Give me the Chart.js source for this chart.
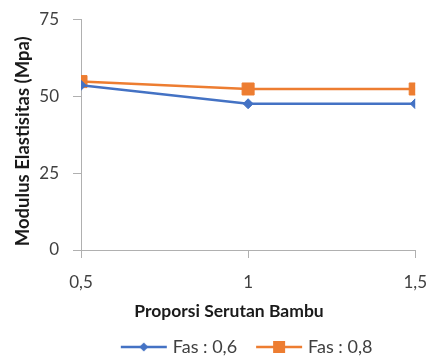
<!DOCTYPE html>
<html>
<head>
<meta charset="utf-8">
<script src="https://cdn.jsdelivr.net/npm/chart.js@4/dist/chart.umd.min.js"></script>
<style>
  html, body { margin: 0; padding: 0; background: #ffffff; }
  #wrap { width: 441px; height: 361px; }
</style>
</head>
<body>
<div id="wrap"><canvas id="c" width="441" height="361"></canvas></div>
<script>
// Proporsi serutan bambu (x) and modulus elastisitas (Mpa) per FAS
const proporsi = [0.5, 1, 1.5];
const fas06 = [53.5, 47.5, 47.5];
const fas08 = [54.7, 52.3, 52.3];
const yTicks = [0, 25, 50, 75];
const seriesNames = ['Fas : 0,6', 'Fas : 0,8'];

const BLUE = '#4472C4';
const ORANGE = '#ED7D31';
const FONT = "Lato, 'Open Sans', 'Noto Sans', sans-serif";

// Legend swatch: short line with the series marker in the middle
function legendIcon(color, shape) {
  const c = document.createElement('canvas');
  c.width = 50; c.height = 14;
  const g = c.getContext('2d');
  g.strokeStyle = color; g.lineWidth = 2.5;
  g.beginPath(); g.moveTo(2, 7); g.lineTo(48, 7); g.stroke();
  g.fillStyle = color;
  if (shape === 'diamond') {
    g.beginPath(); g.moveTo(25, 2.5); g.lineTo(29.5, 7); g.lineTo(25, 11.5); g.lineTo(20.5, 7); g.closePath(); g.fill();
  } else {
    g.fillRect(19, 1, 12, 12);
  }
  return c;
}

const toPts = (ys) => proporsi.map((x, i) => ({ x: x, y: ys[i] }));

new Chart(document.getElementById('c'), {
  type: 'line',
  data: {
    datasets: [
      {
        label: seriesNames[0],
        data: toPts(fas06),
        borderColor: BLUE,
        backgroundColor: BLUE,
        borderWidth: 2.5,
        pointStyle: 'rectRot',
        pointRadius: 5,
        pointHoverRadius: 5,
        pointBorderWidth: 1,
        tension: 0,
        legendIcon: legendIcon(BLUE, 'diamond')
      },
      {
        label: seriesNames[1],
        data: toPts(fas08),
        borderColor: ORANGE,
        backgroundColor: ORANGE,
        borderWidth: 2.5,
        pointStyle: 'rect',
        pointRadius: 8.5,
        pointHoverRadius: 8.5,
        pointBorderWidth: 1,
        tension: 0,
        legendIcon: legendIcon(ORANGE, 'square')
      }
    ]
  },
  options: {
    responsive: false,
    animation: false,
    layout: { padding: { top: 7, right: 17, left: 0, bottom: -5 } },
    plugins: {
      tooltip: { enabled: false },
      legend: {
        position: 'bottom',
        fullSize: false,
        labels: {
          usePointStyle: true,
          pointStyleWidth: 40,
          color: '#404040',
          font: { family: FONT, size: 18 },
          padding: 22,
          generateLabels: (chart) => chart.data.datasets.map((ds, i) => ({
            text: ds.label,
            pointStyle: ds.legendIcon,
            fillStyle: ds.borderColor,
            strokeStyle: ds.borderColor,
            lineWidth: 0,
            datasetIndex: i,
            hidden: false,
            fontColor: '#404040'
          }))
        }
      }
    },
    scales: {
      x: {
        type: 'linear',
        min: 0.5,
        max: 1.5,
        afterBuildTicks: (ax) => { ax.ticks = proporsi.map(v => ({ value: v })); },
        ticks: {
          color: '#404040',
          font: { family: FONT, size: 17 },
          padding: 14,
          maxRotation: 0,
          callback: (v) => String(v).replace('.', ',')
        },
        grid: { display: true, drawOnChartArea: false, drawTicks: true, tickLength: 8, color: '#b0b0b0' },
        border: { display: true, color: '#b0b0b0', width: 1 },
        title: {
          display: true,
          text: 'Proporsi Serutan Bambu' + '\u00a0'.repeat(9),
          color: '#1a1a1a',
          font: { family: FONT, size: 17.5, weight: 'bold' },
          padding: { top: 0, bottom: -5.5 }
        },
        afterFit: (ax) => { ax.height = 66; }
      },
      y: {
        min: 0,
        max: 75,
        afterBuildTicks: (ax) => { ax.ticks = yTicks.map(v => ({ value: v })); },
        ticks: {
          color: '#404040',
          font: { family: FONT, size: 17, lineHeight: 0.6 },
          padding: 14
        },
        grid: { display: true, drawOnChartArea: false, drawTicks: true, tickLength: 8, color: '#b0b0b0' },
        border: { display: true, color: '#b0b0b0', width: 1 },
        title: {
          display: true,
          text: 'Modulus Elastisitas (Mpa)' + '\u00a0'.repeat(3),
          color: '#1a1a1a',
          font: { family: FONT, size: 18.5, weight: 'bold' },
          padding: { top: 12, bottom: 0 }
        },
        afterFit: (ax) => { ax.width = 81; }
      }
    }
  }
});
</script>
</body>
</html>
